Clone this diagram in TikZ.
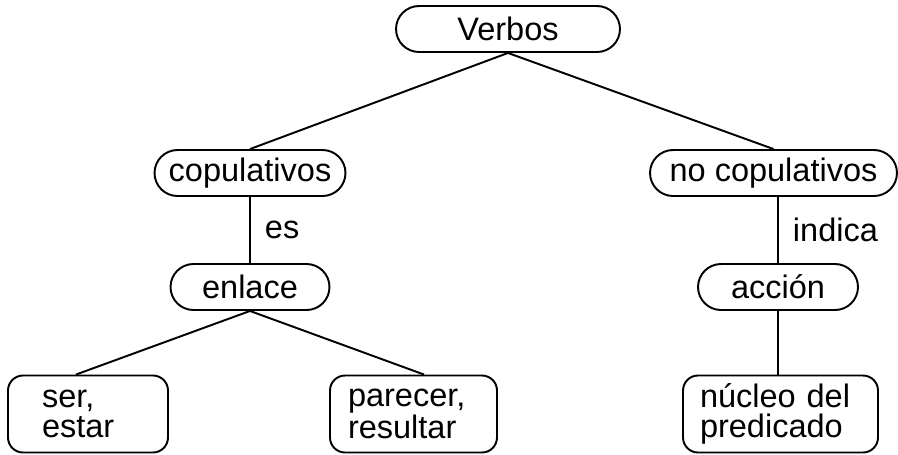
\documentclass[tikz,border=0pt]{standalone}
\usepackage{fontspec}
\setmainfont{Liberation Sans}
\usetikzlibrary{arrows}

\tikzset{
  letra/.style={font=\fontsize{18.5}{16.8}\selectfont},
  caja/.style={draw, letra, rounded corners=0.46cm, minimum height=0.92cm, inner sep=0pt},
  caja2/.style={draw, letra, rounded corners=0.3cm, minimum height=1.54cm, align=left, inner ysep=0pt},
  etiq/.style={letra, anchor=west, inner sep=0pt, xshift=0.28cm}
}

\begin{document}
\begin{tikzpicture}[x=0.02cm, y=-0.02cm, line width=1.1pt]
            \useasboundingbox (0,0) rectangle (898,454);
            %cajas
            \node[caja, minimum width=4.48cm] (verbos) at (508,29) {Verbos};
            \node[caja, minimum width=3.82cm] (copul) at (250,173) {copulativos};
            \node[caja, minimum width=4.94cm] (nocopul) at (773.5,173) {no copulativos};
            \node[caja, minimum width=3.18cm] (enlace) at (250,287) {enlace};
            \node[caja, minimum width=3.2cm] (accion) at (778,287) {acción};
            \node[caja2, text width=1.84cm, inner xsep=0.68cm] (ser) at (88,414) {ser,\\estar};
            \node[caja2, text width=2.62cm, inner xsep=0.36cm] (parecer) at (413.5,414) {parecer,\\resultar};
            \node[caja2, text width=3.22cm, inner xsep=0.34cm] (nucleo) at (780.5,414) {núcleo del\\predicado};
            %lineas
            \draw (verbos.south) -- (copul.north);
            \draw (verbos.south) -- (nocopul.north);
            \draw (copul.south) -- (enlace.north) node[etiq, midway] (es) {es};
            \draw (accion.north |- nocopul.south) -- (accion.north) node[etiq, midway] (indica) {indica};
            \draw (enlace.south) -- ([xshift=-0.24cm]ser.north);
            \draw (enlace.south) -- ([xshift=0.21cm]parecer.north);
            \draw (accion.south) -- (accion.south |- nucleo.north);
        \end{tikzpicture}
\end{document}
